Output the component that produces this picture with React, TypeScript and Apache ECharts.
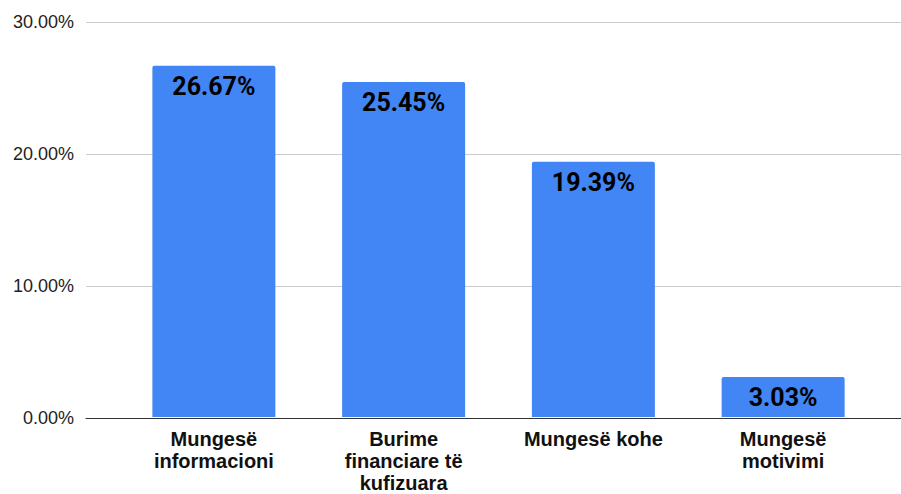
import React, { useEffect, useRef } from "react";
import * as echarts from "echarts";

const categories = ["Mungesë informacioni", "Burime financiare të kufizuara", "Mungesë kohe", "Mungesë motivimi"];
const wrappedLabels = ["Mungesë\ninformacioni", "Burime\nfinanciare të\nkufizuara", "Mungesë kohe", "Mungesë\nmotivimi"];
const values = [26.67, 25.45, 19.39, 3.03];
const yTicks = [0, 10, 20, 30];

export default function App() {
  const ref = useRef<HTMLDivElement>(null);
  useEffect(() => {
    if (!ref.current) return;
    const chart = echarts.init(ref.current, undefined, { renderer: "svg" });
    const yMin = yTicks[0];
    const yMax = yTicks[yTicks.length - 1];
    chart.setOption({
      animation: false,
      backgroundColor: "#ffffff",
      grid: [
        { left: 86, right: 0, top: 22, bottom: 76 },
        { left: 119, right: 23, top: 22, bottom: 76 },
      ],
      xAxis: [
        {
          type: "value",
          gridIndex: 0,
          min: 0,
          max: 1,
          axisLine: { show: true, lineStyle: { color: "#333333", width: 1 } },
          axisTick: { show: false },
          axisLabel: { show: false },
          splitLine: { show: false },
        },
        {
          type: "category",
          gridIndex: 1,
          data: categories,
          axisTick: { show: false },
          axisLine: { show: false },
          axisLabel: {
            interval: 0,
            margin: 11,
            fontFamily: "Liberation Sans, Arial, sans-serif",
            fontWeight: "bold",
            fontSize: 20,
            lineHeight: 22,
            color: "#111111",
            formatter: (v: string) => wrappedLabels[categories.indexOf(v)] ?? v,
          },
        },
      ],
      yAxis: [
        {
          type: "value",
          gridIndex: 0,
          min: yMin,
          max: yMax,
          interval: 10,
          axisLine: { show: false },
          axisTick: { show: false },
          splitLine: { lineStyle: { color: "#cccccc", width: 1 } },
          axisLabel: {
            margin: 12,
            fontFamily: "Liberation Sans, Arial, sans-serif",
            fontSize: 18,
            color: "#222222",
            formatter: (v: number) => v.toFixed(2) + "%",
          },
        },
        {
          type: "value",
          gridIndex: 1,
          min: yMin,
          max: yMax,
          interval: 10,
          show: false,
          splitLine: { show: false },
        },
      ],
      series: [
        {
          type: "bar",
          xAxisIndex: 1,
          yAxisIndex: 1,
          data: values,
          barWidth: 123,
          itemStyle: { color: "#4285F4", borderRadius: [2, 2, 0, 0] },
          label: {
            show: true,
            position: "insideTop",
            distance: 8,
            fontFamily: "Roboto, sans-serif",
            fontWeight: "bold",
            fontSize: 25,
            color: "#000000",
            formatter: (p: any) => p.value.toFixed(2) + "%",
          },
        },
      ],
    });
    return () => chart.dispose();
  }, []);
  return <div ref={ref} style={{ position: "fixed", left: 0, top: 0, width: 901, height: 494 }} />;
}
